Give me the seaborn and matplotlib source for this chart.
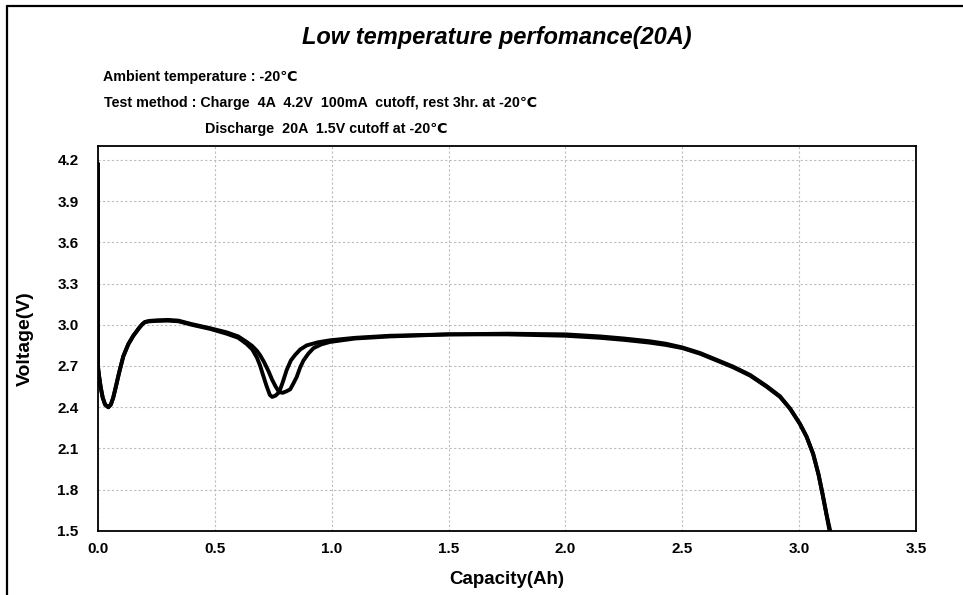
import matplotlib
matplotlib.use("Agg")
import matplotlib.pyplot as plt
from matplotlib.lines import Line2D
import seaborn as sns
import pandas as pd

# Discharge curves (two cells at 20A, -20C)
cap_a = [0.000, 0.000, 0.005, 0.012, 0.020, 0.030, 0.044, 0.055, 0.065, 0.075,
         0.090, 0.108, 0.130, 0.151, 0.175, 0.190, 0.201, 0.220, 0.250, 0.300,
         0.344, 0.400, 0.479, 0.550, 0.600, 0.636, 0.660, 0.680, 0.693, 0.705,
         0.720, 0.735, 0.745, 0.760, 0.775, 0.790, 0.807, 0.825, 0.843, 0.865,
         0.893, 0.940, 0.993, 1.100, 1.250, 1.500, 1.750, 2.000, 2.148, 2.250,
         2.360, 2.430, 2.500, 2.575, 2.647, 2.718, 2.790, 2.860, 2.918, 2.961,
         3.003, 3.032, 3.060, 3.083, 3.100, 3.117, 3.130]
volt_a = [4.17, 2.69, 2.62, 2.54, 2.47, 2.42, 2.40, 2.42, 2.47, 2.54,
          2.65, 2.77, 2.86, 2.92, 2.975, 3.005, 3.02, 3.025, 3.028, 3.03,
          3.025, 3.00, 2.97, 2.935, 2.905, 2.86, 2.82, 2.76, 2.705, 2.64,
          2.56, 2.49, 2.475, 2.485, 2.51, 2.58, 2.67, 2.74, 2.78, 2.82,
          2.85, 2.872, 2.887, 2.905, 2.92, 2.93, 2.93, 2.92, 2.905, 2.89,
          2.87, 2.853, 2.83, 2.79, 2.74, 2.69, 2.63, 2.55, 2.475, 2.39,
          2.28, 2.185, 2.06, 1.91, 1.77, 1.62, 1.50]

cap_b = [0.000, 0.000, 0.005, 0.012, 0.020, 0.030, 0.044, 0.055, 0.065, 0.075,
         0.090, 0.108, 0.130, 0.151, 0.175, 0.190, 0.201, 0.220, 0.250, 0.300,
         0.344, 0.400, 0.479, 0.550, 0.600, 0.636, 0.660, 0.680, 0.693, 0.710,
         0.730, 0.745, 0.760, 0.775, 0.790, 0.805, 0.822, 0.835, 0.850, 0.865,
         0.879, 0.900, 0.922, 0.955, 0.993, 1.100, 1.250, 1.500, 1.750, 2.000,
         2.148, 2.250, 2.360, 2.430, 2.500, 2.575, 2.647, 2.718, 2.790, 2.860,
         2.918, 2.961, 3.003, 3.032, 3.060, 3.083, 3.100, 3.117, 3.133]
volt_b = [4.17, 2.69, 2.62, 2.54, 2.47, 2.42, 2.40, 2.42, 2.47, 2.54,
          2.65, 2.77, 2.86, 2.92, 2.975, 3.005, 3.02, 3.028, 3.032, 3.035,
          3.03, 3.005, 2.975, 2.945, 2.915, 2.875, 2.845, 2.81, 2.78, 2.73,
          2.66, 2.60, 2.55, 2.51, 2.505, 2.515, 2.53, 2.57, 2.62, 2.69,
          2.74, 2.79, 2.83, 2.857, 2.875, 2.90, 2.915, 2.93, 2.935, 2.93,
          2.915, 2.90, 2.88, 2.862, 2.835, 2.795, 2.745, 2.695, 2.635, 2.555,
          2.48, 2.39, 2.28, 2.185, 2.06, 1.91, 1.77, 1.62, 1.50]

x_ticks = [0.0, 0.5, 1.0, 1.5, 2.0, 2.5, 3.0, 3.5]
y_ticks = [1.5, 1.8, 2.1, 2.4, 2.7, 3.0, 3.3, 3.6, 3.9, 4.2]

df = pd.concat([
    pd.DataFrame({"cap": cap_a, "volt": volt_a, "cell": "A"}),
    pd.DataFrame({"cap": cap_b, "volt": volt_b, "cell": "B"}),
])

sns.set_theme(style="white")
plt.rcParams["font.family"] = ["Liberation Sans", "DejaVu Sans"]
plt.rcParams["text.color"] = "black"
plt.rcParams["axes.labelcolor"] = "black"
plt.rcParams["xtick.color"] = "black"
plt.rcParams["ytick.color"] = "black"

fig = plt.figure(figsize=(9.63, 5.95), dpi=100)
ax = fig.add_axes([0.1018, 0.1076, 0.8494, 0.6470])

sns.lineplot(data=df, x="cap", y="volt", units="cell", estimator=None, sort=False,
             color="black", linewidth=2.8, ax=ax, legend=False)

ax.set_xlim(0, 3.5)
ax.set_ylim(1.5, 4.3)
ax.set_xticks(x_ticks)
ax.set_yticks(y_ticks)
ax.set_xticklabels([f"{v:.1f}" for v in x_ticks], fontweight="bold", fontsize=11)
ax.set_yticklabels([f"{v:.1f}" for v in y_ticks], fontweight="bold", fontsize=11)
ax.tick_params(direction="in", length=4, width=1, color="black", pad=8)
ax.tick_params(axis="y", pad=14)
ax.grid(True, color="#bdbdbd", linestyle=(0, (2, 2)), linewidth=0.8)
for s in ax.spines.values():
    s.set_color("black")
    s.set_linewidth(1.3)

ax.set_xlabel("Capacity(Ah)", fontweight="bold", fontsize=13.5, labelpad=11)
ax.set_ylabel("Voltage(V)", fontweight="bold", fontsize=14, labelpad=17)

fig.text(0.516, 0.937, "Low temperature perfomance(20A)", ha="center", va="center",
         fontsize=17, fontweight="bold", style="italic")
fig.text(0.107, 0.870, "Ambient temperature : -20℃", fontsize=10.3, fontweight="bold", va="center")
fig.text(0.108, 0.827, "Test method : Charge  4A  4.2V  100mA  cutoff, rest 3hr. at -20℃",
         fontsize=10.3, fontweight="bold", va="center")
fig.text(0.213, 0.783, "Discharge  20A  1.5V cutoff at -20℃", fontsize=10.3,
         fontweight="bold", va="center")

# outer frame (left and top edges)
fig.add_artist(Line2D([0.0075, 0.0075], [0.0, 0.990], color="black", linewidth=1.6))
fig.add_artist(Line2D([0.0075, 1.0], [0.990, 0.990], color="black", linewidth=1.6))

fig.savefig("out.png", dpi=100)
